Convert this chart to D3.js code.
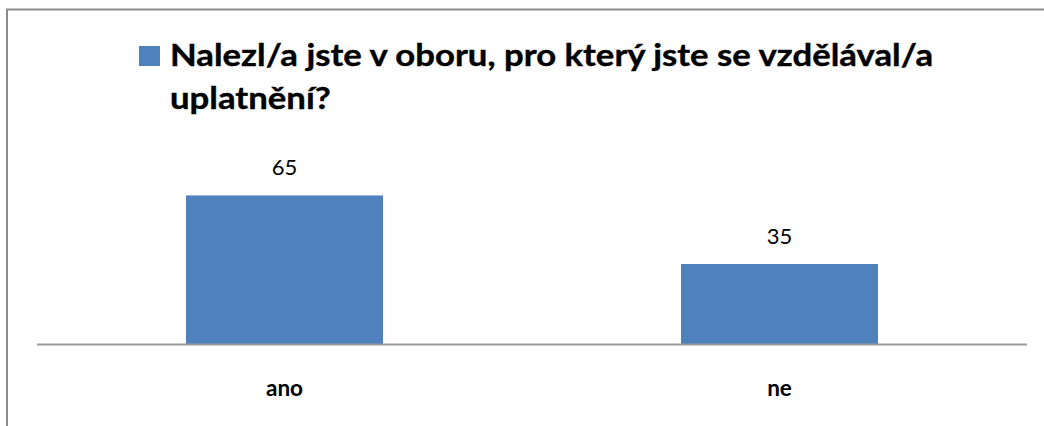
<!DOCTYPE html>
<html>
<head>
<meta charset="utf-8">
<script src="https://cdn.jsdelivr.net/npm/d3@7"></script>
<style>
  body { margin: 0; background: #fff; }
  text { font-family: Lato, "Open Sans", sans-serif; }
</style>
</head>
<body>
<svg width="1044" height="426"></svg>
<script>
var categories = ["ano", "ne"];
var values = [65, 35];
var titleLines = ["Nalezl/a jste v oboru, pro který jste se vzdělával/a", "uplatnění?"];

var width = 1044, height = 426;
var plot = {left: 37, right: 1027, top: 184, bottom: 344};
var barColor = "#4f81bd";

var svg = d3.select("svg");

// outer frame (only top and left edges are visible in the crop)
svg.append("rect")
  .attr("x", 7).attr("y", 9.5)
  .attr("width", 1100).attr("height", 500)
  .attr("fill", "none")
  .attr("stroke", "#8c8c8c")
  .attr("stroke-width", 2);

var x = d3.scaleBand().domain(categories).range([plot.left, plot.right]).padding(0);
var y = d3.scaleLinear().domain([0, 70]).range([plot.bottom, plot.top]);
var barW = x.bandwidth() * 0.398;

svg.append("g").selectAll("rect").data(values).enter().append("rect")
  .attr("x", function(d, i) { return x(categories[i]) + x.bandwidth() / 2 - barW / 2; })
  .attr("y", function(d) { return y(d); })
  .attr("width", barW)
  .attr("height", function(d) { return y(0) - y(d); })
  .attr("fill", barColor);

// value labels
svg.append("g").selectAll("text").data(values).enter().append("text")
  .attr("x", function(d, i) { return x(categories[i]) + x.bandwidth() / 2; })
  .attr("y", function(d) { return y(d) - 20; })
  .attr("text-anchor", "middle")
  .style("font-size", "22px")
  .attr("fill", "#000")
  .text(function(d) { return d; });

// x axis line
svg.append("line")
  .attr("x1", plot.left).attr("x2", plot.right)
  .attr("y1", y(0) + 0.5).attr("y2", y(0) + 0.5)
  .attr("stroke", "#9a9a9a").attr("stroke-width", 2);

// category labels
svg.append("g").selectAll("text").data(categories).enter().append("text")
  .attr("x", function(d) { return x(d) + x.bandwidth() / 2; })
  .attr("y", 396)
  .attr("text-anchor", "middle")
  .style("font-size", "22.5px")
  .style("font-weight", "bold")
  .text(function(d) { return d; });

// legend / title
svg.append("rect")
  .attr("x", 139).attr("y", 46)
  .attr("width", 21).attr("height", 20)
  .attr("fill", barColor);

var title = svg.append("text")
  .attr("x", 170).attr("y", 66)
  .style("font-weight", "bold")
  .style("font-size", "31px")
  .attr("stroke", "#000").attr("stroke-width", 0.4);
var spans = title.selectAll("tspan").data(titleLines).enter().append("tspan")
  .attr("x", 170)
  .attr("y", function(d, i) { return 66 + i * 43; })
  .text(function(d) { return d; });

// squeeze the lines horizontally so the first line matches the reference width
var ratio = 763 / spans.nodes()[0].getComputedTextLength();
spans.each(function() {
  var w = this.getComputedTextLength();
  d3.select(this).attr("textLength", w * ratio).attr("lengthAdjust", "spacingAndGlyphs");
});
</script>
</body>
</html>
